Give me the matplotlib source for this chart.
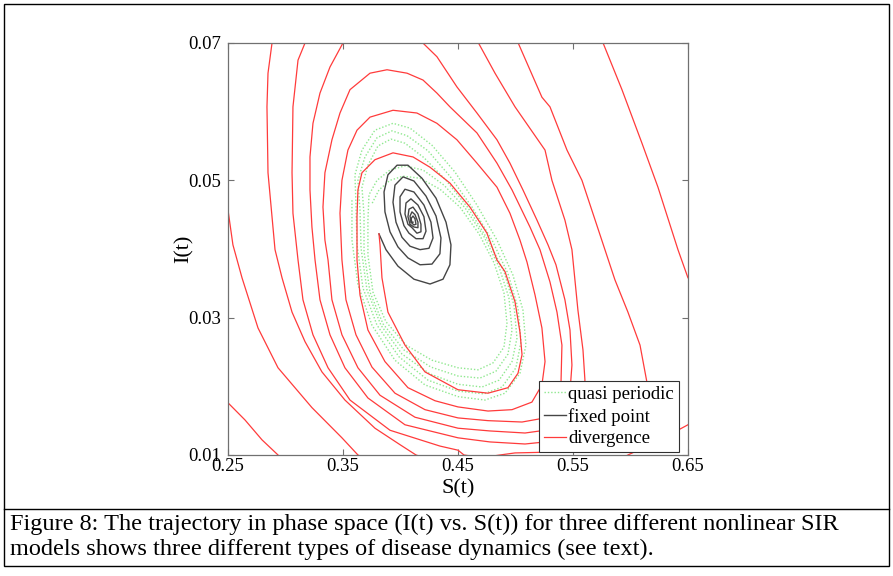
import matplotlib
matplotlib.use('Agg')
import matplotlib.pyplot as plt
from matplotlib.lines import Line2D
from matplotlib.patches import Rectangle

# divergence trajectory, one loop per row pair (S, I)
div_S = (
    [0.3813, 0.3822, 0.3839, 0.3891, 0.4039, 0.4213, 0.4500, 0.4761, 0.4935, 0.5022, 0.5057, 0.5039, 0.4996,
     0.4909, 0.4839, 0.4752, 0.4604, 0.4430, 0.4257, 0.4109, 0.3935, 0.3778, 0.3665, 0.3630, 0.3622, 0.3622]
    + [0.3648, 0.3717, 0.3865, 0.4065, 0.4300, 0.4500, 0.4761, 0.4970, 0.5143, 0.5230, 0.5257, 0.5230, 0.5170,
       0.5100, 0.5039, 0.4952, 0.4839, 0.4665, 0.4491, 0.4317, 0.4143, 0.3935, 0.3735, 0.3622, 0.3543, 0.3491,
       0.3474, 0.3491]
    + [0.3526, 0.3613, 0.3752, 0.3952, 0.4213, 0.4500, 0.4761, 0.5057, 0.5257, 0.5352, 0.5396, 0.5404, 0.5361,
       0.5300, 0.5213, 0.5126, 0.4970, 0.4839, 0.4665, 0.4430, 0.4317, 0.4196, 0.4057, 0.3883, 0.3735, 0.3561,
       0.3474, 0.3404, 0.3343, 0.3326, 0.3343, 0.3370]
    + [0.3404, 0.3491, 0.3630, 0.3822, 0.4126, 0.4500, 0.4778, 0.5083, 0.5257, 0.5404, 0.5474, 0.5491, 0.5474,
       0.5430, 0.5352, 0.5283, 0.5187, 0.5065, 0.4952, 0.4839, 0.4665, 0.4491, 0.4317, 0.4170, 0.3996, 0.3778,
       0.3604, 0.3500, 0.3387, 0.3300, 0.3239, 0.3213, 0.3213, 0.3230, 0.3257]
    + [0.3300, 0.3387, 0.3517, 0.3717, 0.4039, 0.4500, 0.4778, 0.5083, 0.5257, 0.5474, 0.5587, 0.5604, 0.5587,
       0.5543, 0.5491, 0.5430, 0.5317, 0.5257, 0.4996, 0.4822, 0.4665, 0.4430, 0.3996, 0.3474, 0.3213, 0.3170,
       0.3109, 0.3065, 0.3057, 0.3065, 0.3109]
    + [0.3152, 0.3239, 0.3370, 0.3561, 0.3909, 0.4343, 0.4500, 0.4552, 0.4709, 0.4865, 0.4996, 0.5257, 0.5735,
       0.6039, 0.6170, 0.6143, 0.6083, 0.5978, 0.5865, 0.5778, 0.5578, 0.5448, 0.5300, 0.5230, 0.5013, 0.4691,
       0.3996, 0.3300, 0.2952, 0.2883, 0.2848, 0.2839, 0.2848, 0.2883, 0.2909]
    + [0.2970, 0.3057, 0.3170, 0.3317, 0.3517, 0.3778, 0.3996, 0.4135, 0.4517, 0.5213, 0.5735, 0.5978, 0.6257,
       0.6500, 0.6691, 0.6778, 0.6604, 0.6500, 0.6413, 0.6239, 0.6100, 0.5926, 0.5752, 0.5387, 0.4430, 0.3387,
       0.2691, 0.2387, 0.2387]
    + [0.2500, 0.2543, 0.2622, 0.2761, 0.2935, 0.3230, 0.3491, 0.3630, 0.4170, 0.5039, 0.6083, 0.6691, 0.6865,
       0.6778, 0.6430, 0.4430, 0.2691, 0.2083, 0.2170, 0.2500, 0.2648, 0.2796, 0.2935, 0.3083]
)
div_I = (
    [0.0422, 0.0406, 0.0358, 0.0308, 0.0260, 0.0221, 0.0195, 0.0190, 0.0198, 0.0219, 0.0246, 0.0279, 0.0323,
     0.0367, 0.0384, 0.0423, 0.0461, 0.0496, 0.0519, 0.0534, 0.0540, 0.0530, 0.0511, 0.0486, 0.0447, 0.0384]
    + [0.0333, 0.0282, 0.0236, 0.0198, 0.0179, 0.0170, 0.0164, 0.0166, 0.0177, 0.0202, 0.0236, 0.0285, 0.0333,
       0.0381, 0.0413, 0.0452, 0.0490, 0.0525, 0.0559, 0.0583, 0.0598, 0.0602, 0.0592, 0.0573, 0.0544, 0.0500,
       0.0452, 0.0384]
    + [0.0326, 0.0275, 0.0228, 0.0190, 0.0166, 0.0154, 0.0150, 0.0148, 0.0154, 0.0173, 0.0206, 0.0260, 0.0308,
       0.0352, 0.0399, 0.0432, 0.0486, 0.0525, 0.0569, 0.0607, 0.0627, 0.0646, 0.0656, 0.0661, 0.0656, 0.0632,
       0.0598, 0.0559, 0.0511, 0.0461, 0.0413, 0.0384]
    + [0.0326, 0.0275, 0.0227, 0.0187, 0.0155, 0.0139, 0.0135, 0.0132, 0.0136, 0.0158, 0.0192, 0.0231, 0.0282,
       0.0326, 0.0377, 0.0406, 0.0442, 0.0486, 0.0525, 0.0559, 0.0598, 0.0636, 0.0680, 0.0704, 0.0726, 0.0733,
       0.0722, 0.0700, 0.0665, 0.0627, 0.0583, 0.0534, 0.0486, 0.0432, 0.0384]
    + [0.0326, 0.0275, 0.0227, 0.0183, 0.0144, 0.0125, 0.0119, 0.0116, 0.0119, 0.0136, 0.0173, 0.0209, 0.0253,
       0.0311, 0.0399, 0.0442, 0.0500, 0.0544, 0.0607, 0.0656, 0.0704, 0.0748, 0.0770, 0.0763, 0.0726, 0.0700,
       0.0675, 0.0607, 0.0511, 0.0452, 0.0384]
    + [0.0326, 0.0275, 0.0227, 0.0180, 0.0136, 0.0113, 0.0107, 0.0100, 0.0096, 0.0100, 0.0103, 0.0104, 0.0112,
       0.0139, 0.0180, 0.0206, 0.0260, 0.0308, 0.0355, 0.0399, 0.0500, 0.0544, 0.0607, 0.0621, 0.0704, 0.0777,
       0.0799, 0.0784, 0.0733, 0.0700, 0.0656, 0.0607, 0.0511, 0.0447, 0.0399]
    + [0.0358, 0.0308, 0.0265, 0.0221, 0.0180, 0.0139, 0.0115, 0.0100, 0.0078, 0.0064, 0.0078, 0.0100, 0.0122,
       0.0144, 0.0180, 0.0282, 0.0340, 0.0358, 0.0399, 0.0490, 0.0554, 0.0632, 0.0704, 0.0806, 0.0835, 0.0828,
       0.0792, 0.0675, 0.0544]
    + [0.0457, 0.0406, 0.0358, 0.0285, 0.0227, 0.0169, 0.0125, 0.0100, 0.0056, 0.0034, 0.0042, 0.0122, 0.0282,
       0.0544, 0.0850, 0.0894, 0.0850, 0.0617, 0.0326, 0.0176, 0.0151, 0.0122, 0.0100, 0.0071]
)

# fixed point spiral
fix_S = (
    [0.3813, 0.3874, 0.3978, 0.4117, 0.4257, 0.4370, 0.4430, 0.4439, 0.4396, 0.4309, 0.4187, 0.4065, 0.3970,
     0.3891, 0.3857, 0.3865, 0.3909]
    + [0.3978, 0.4065, 0.4170, 0.4274, 0.4343, 0.4352, 0.4309, 0.4222, 0.4117, 0.4022, 0.3952, 0.3935, 0.3961]
    + [0.4013, 0.4083, 0.4170, 0.4248, 0.4283, 0.4265, 0.4204, 0.4117, 0.4039, 0.3996, 0.3996, 0.4030]
    + [0.4074, 0.4135, 0.4196, 0.4222, 0.4204, 0.4152, 0.4091, 0.4048, 0.4039, 0.4065]
    + [0.4100, 0.4143, 0.4178, 0.4178, 0.4152, 0.4109, 0.4074, 0.4065, 0.4083]
    + [0.4117, 0.4152, 0.4152, 0.4126, 0.4100, 0.4083, 0.4091]
    + [0.4117, 0.4135, 0.4126, 0.4109, 0.4091, 0.4100, 0.4109]
)
fix_I = (
    [0.0422, 0.0399, 0.0375, 0.0356, 0.0349, 0.0356, 0.0377, 0.0406, 0.0439, 0.0474, 0.0503, 0.0522, 0.0522,
     0.0508, 0.0483, 0.0454, 0.0425]
    + [0.0403, 0.0387, 0.0377, 0.0378, 0.0393, 0.0416, 0.0448, 0.0477, 0.0499, 0.0505, 0.0493, 0.0468, 0.0439]
    + [0.0417, 0.0404, 0.0399, 0.0401, 0.0416, 0.0439, 0.0464, 0.0483, 0.0487, 0.0476, 0.0454, 0.0434]
    + [0.0423, 0.0415, 0.0415, 0.0426, 0.0447, 0.0464, 0.0473, 0.0467, 0.0451, 0.0436]
    + [0.0431, 0.0423, 0.0425, 0.0436, 0.0451, 0.0461, 0.0458, 0.0447, 0.0436]
    + [0.0432, 0.0431, 0.0439, 0.0450, 0.0454, 0.0448, 0.0439]
    + [0.0435, 0.0436, 0.0444, 0.0448, 0.0444, 0.0439, 0.0439]
)

# quasi periodic orbit
qp_S = (
    [0.3578, 0.3578, 0.3630, 0.3752, 0.3952, 0.4213, 0.4500, 0.4735, 0.4909, 0.5039, 0.5091, 0.5065, 0.4978,
     0.4839, 0.4665, 0.4474, 0.4274, 0.4083, 0.3935, 0.3778, 0.3665, 0.3604]
    + [0.3613, 0.3622, 0.3674, 0.3796, 0.3987, 0.4239, 0.4500, 0.4726, 0.4883, 0.5004, 0.5048, 0.5022, 0.4935,
       0.4796, 0.4622, 0.4430, 0.4239, 0.4057, 0.3926, 0.3796, 0.3691, 0.3630]
    + [0.3648, 0.3657, 0.3709, 0.3830, 0.4013, 0.4257, 0.4500, 0.4709, 0.4857, 0.4970, 0.5013, 0.4987, 0.4900,
       0.4761, 0.4587, 0.4396, 0.4204, 0.4039, 0.3917, 0.3804, 0.3717, 0.3665]
    + [0.3683, 0.3683, 0.3735, 0.3848, 0.4030, 0.4265, 0.4500, 0.4691, 0.4830, 0.4935, 0.4970, 0.4943, 0.4857,
       0.4726, 0.4561, 0.4378, 0.4196, 0.4039, 0.3909, 0.3796, 0.3726]
    + [0.3717, 0.3717, 0.3761, 0.3874, 0.4048, 0.4274, 0.4500, 0.4674, 0.4804, 0.4900, 0.4926, 0.4900, 0.4813,
       0.4683, 0.4517, 0.4344, 0.4170, 0.4022, 0.3909, 0.3813, 0.3752]
)
qp_I = (
    [0.0471, 0.0413, 0.0348, 0.0289, 0.0238, 0.0202, 0.0185, 0.0180, 0.0190, 0.0219, 0.0260, 0.0311, 0.0362,
     0.0413, 0.0464, 0.0512, 0.0551, 0.0576, 0.0583, 0.0573, 0.0544, 0.0508]
    + [0.0464, 0.0406, 0.0343, 0.0289, 0.0243, 0.0209, 0.0193, 0.0189, 0.0199, 0.0227, 0.0265, 0.0314, 0.0364,
       0.0413, 0.0461, 0.0506, 0.0543, 0.0565, 0.0572, 0.0562, 0.0534, 0.0500]
    + [0.0457, 0.0401, 0.0340, 0.0289, 0.0247, 0.0218, 0.0203, 0.0199, 0.0209, 0.0236, 0.0270, 0.0318, 0.0367,
       0.0413, 0.0460, 0.0500, 0.0533, 0.0554, 0.0560, 0.0550, 0.0522, 0.0490]
    + [0.0450, 0.0396, 0.0337, 0.0291, 0.0253, 0.0228, 0.0215, 0.0212, 0.0222, 0.0247, 0.0282, 0.0329, 0.0374,
       0.0418, 0.0460, 0.0493, 0.0515, 0.0521, 0.0515, 0.0500, 0.0479]
    + [0.0442, 0.0391, 0.0337, 0.0294, 0.0260, 0.0238, 0.0227, 0.0224, 0.0234, 0.0257, 0.0292, 0.0336, 0.0380,
       0.0422, 0.0461, 0.0487, 0.0503, 0.0506, 0.0500, 0.0486, 0.0466]
)

x_ticks = [0.25, 0.35, 0.45, 0.55, 0.65]
y_ticks = [0.01, 0.03, 0.05, 0.07]
caption = [
    'Figure 8: The trajectory in phase space (I(t) vs. S(t)) for three different nonlinear SIR',
    'models shows three different types of disease dynamics (see text).',
]

plt.rcParams['font.family'] = ['Liberation Serif', 'DejaVu Serif']


def draw_phase_plot(fig):
    ax = fig.add_axes([0.2553, 0.2101, 0.5151, 0.7153])

    ax.plot(qp_S, qp_I, color='#8fe88f', lw=1.0, linestyle=(0, (1, 1.4)), label='quasi periodic')
    ax.plot(fix_S, fix_I, color='#454545', lw=1.0, label='fixed point')
    ax.plot(div_S, div_I, color='#ff3b3b', lw=0.9, label='divergence')

    ax.set_xlim(0.25, 0.65)
    ax.set_ylim(0.01, 0.07)
    ax.set_xticks(x_ticks)
    ax.set_yticks(y_ticks)
    ax.set_xticklabels(['%.2f' % v for v in x_ticks])
    ax.set_yticklabels(['%.2f' % v for v in y_ticks])
    ax.tick_params(direction='in', length=4, width=0.8, color='#707070',
                   top=True, right=True, labelsize=13.5, pad=2)
    ax.tick_params(axis='y', pad=5)
    for sp in ax.spines.values():
        sp.set_color('#707070')
        sp.set_linewidth(0.9)

    ax.set_xlabel('S(t)', fontsize=16)
    ax.set_ylabel('I(t)', fontsize=16)
    ax.xaxis.set_label_coords(0.5, -0.06)
    ax.yaxis.set_label_coords(-0.075, 0.5)

    leg = ax.legend(loc='lower right', bbox_to_anchor=(0.98, 0.007), fontsize=13.5,
                    fancybox=False, framealpha=1, edgecolor='#303030',
                    borderpad=0.25, borderaxespad=0, handlelength=1.2,
                    handletextpad=0.1, labelspacing=0.25)
    leg.get_frame().set_linewidth(0.8)
    return ax


def draw_frame_and_caption(fig):
    # outer box and caption separator
    fig.add_artist(Rectangle((0.0045, 0.0174), 0.991, 0.9757, transform=fig.transFigure,
                             fill=False, edgecolor='black', lw=1.0))
    fig.add_artist(Line2D([0.0045, 0.9955], [0.1163, 0.1163], transform=fig.transFigure,
                          color='black', lw=1.0))
    fig.text(0.0112, 0.090, caption[0], fontsize=17.5, va='center', ha='left')
    fig.text(0.0112, 0.046, caption[1], fontsize=17.5, va='center', ha='left')


def main():
    fig = plt.figure(figsize=(8.93, 5.76), dpi=100)
    draw_phase_plot(fig)
    draw_frame_and_caption(fig)
    fig.savefig('out.png', dpi=100, facecolor='white')


if __name__ == "__main__":
    main()
